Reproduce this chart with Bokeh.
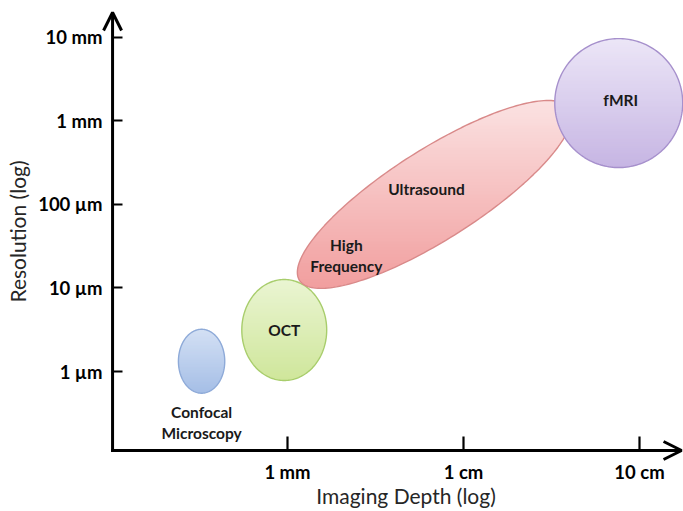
import numpy as np
from bokeh.plotting import figure
from bokeh.models import Range1d, FixedTicker, Arrow, OpenHead
from bokeh.core.properties import value
from bokeh.embed import file_html
from bokeh.resources import INLINE

# ---- axis ticks -------------------------------------------------------------
depth_ticks_mm = [1, 10, 100]
depth_tick_labels = ["1 mm", "1 cm", "10 cm"]
res_ticks_um = [1, 10, 100, 1000, 10000]
res_tick_labels = ["1 µm", "10 µm", "100 µm", "1 mm", "10 mm"]

# ---- imaging modalities: depth range (mm) and resolution range (µm) --------
modalities = ["Confocal Microscopy", "OCT", "Ultrasound", "fMRI"]
depth_lo_mm = [0.24, 0.55, 1.17, 33.0]
depth_hi_mm = [0.44, 1.67, 40.0, 176.0]
res_lo_um = [0.55, 0.78, 12.3, 275.0]
res_hi_um = [3.2, 12.6, 1400.0, 9600.0]
# ultrasound spans the range diagonally (resolution coarsens with depth)
diagonal = [False, False, True, False]

# ---- styling ---------------------------------------------------------------
top_colors = ["#d3e0f4", "#eaf5d2", "#fbe2e2", "#ece6f7"]
bottom_colors = ["#a5bee6", "#cfe69b", "#f19e9e", "#c6b5e3"]
edge_colors = ["#8eaad8", "#a8cd6c", "#d98a8a", "#a690cc"]
US_HALF_THICK_PX = 45

FONT = "Lato"
W, H = 683, 511
# log10(depth / mm) and log10(resolution / µm) spanned by the canvas
X0, X1 = -1.6307, 2.25
Y0, Y1 = -1.6746, 4.4378
SX = W / (X1 - X0)   # px per decade of depth
SY = H / (Y1 - Y0)   # px per decade of resolution
# where the two axes cross, and where their arrows end
X_AX, Y_AX = -0.994, -0.945
X_TIP, Y_TIP = 2.239, 4.294


def outline(i, n=200):
    """Ellipse outline in pixel-scaled (u, v) space."""
    lx0, lx1 = np.log10(depth_lo_mm[i]), np.log10(depth_hi_mm[i])
    ly0, ly1 = np.log10(res_lo_um[i]), np.log10(res_hi_um[i])
    t = np.linspace(0, 2 * np.pi, n, endpoint=False)
    if diagonal[i]:
        u0, v0, u1, v1 = lx0 * SX, ly0 * SY, lx1 * SX, ly1 * SY
        cu, cv = (u0 + u1) / 2, (v0 + v1) / 2
        a = np.hypot(u1 - u0, v1 - v0) / 2
        b = US_HALF_THICK_PX
        th = np.arctan2(v1 - v0, u1 - u0)
        u = cu + a * np.cos(t) * np.cos(th) - b * np.sin(t) * np.sin(th)
        v = cv + a * np.cos(t) * np.sin(th) + b * np.sin(t) * np.cos(th)
    else:
        cu, cv = (lx0 + lx1) / 2 * SX, (ly0 + ly1) / 2 * SY
        a, b = (lx1 - lx0) / 2 * SX, (ly1 - ly0) / 2 * SY
        u, v = cu + a * np.cos(t), cv + b * np.sin(t)
    return u, v


def clip_band(pts, lo, hi):
    """Clip a convex polygon to lo <= v <= hi."""
    def half(poly, keep, level):
        out = []
        for k in range(len(poly)):
            p, q = poly[k], poly[(k + 1) % len(poly)]
            kp, kq = keep(p), keep(q)
            if kp:
                out.append(p)
            if kp != kq:
                s = (level - p[1]) / (q[1] - p[1])
                out.append((p[0] + s * (q[0] - p[0]), level))
        return out
    pts = half(pts, lambda p: p[1] >= lo, lo)
    if pts:
        pts = half(pts, lambda p: p[1] <= hi, hi)
    return pts


def mix(c0, c1, f):
    a = np.array([int(c0[k:k + 2], 16) for k in (1, 3, 5)], float)
    b = np.array([int(c1[k:k + 2], 16) for k in (1, 3, 5)], float)
    c = np.round(a + (b - a) * f).astype(int)
    return "#%02x%02x%02x" % tuple(c)


p = figure(width=W, height=H, x_range=Range1d(X0, X1), y_range=Range1d(Y0, Y1),
           output_backend="svg", toolbar_location=None,
           min_border=0, min_border_left=0, min_border_right=0,
           min_border_top=0, min_border_bottom=0)
p.grid.visible = False
p.outline_line_color = None

# gradient-filled ellipses, drawn as thin horizontal bands
N_BANDS = 60
geom = []
for i in range(len(modalities)):
    u, v = outline(i)
    poly = list(zip(u, v))
    vmin, vmax = v.min(), v.max()
    h = (vmax - vmin) / N_BANDS
    band_xs, band_ys, band_cols = [], [], []
    for k in range(N_BANDS):
        lo = vmin + k * h
        hi = min(lo + h + 0.8, vmax)
        piece = clip_band(poly, lo, hi)
        if len(piece) < 3:
            continue
        f = 1 - (lo + h / 2 - vmin) / (vmax - vmin)
        band_xs.append([q[0] / SX for q in piece])
        band_ys.append([q[1] / SY for q in piece])
        band_cols.append(mix(top_colors[i], bottom_colors[i], f))
    p.patches(xs=band_xs, ys=band_ys, fill_color=band_cols, line_color=None)
    p.patch(u / SX, v / SY, fill_alpha=0, line_color=edge_colors[i], line_width=1.4)
    geom.append((u, v))

# labels
lab_x, lab_y, lab_t = [], [], []
for i, name in enumerate(modalities):
    u, v = geom[i]
    cu, cv = (u.min() + u.max()) / 2, (v.min() + v.max()) / 2
    if name == "Confocal Microscopy":
        lab_x.append(cu / SX); lab_y.append((v.min() - 29) / SY); lab_t.append("Confocal\nMicroscopy")
    elif name == "Ultrasound":
        lab_x.append((cu - 8) / SX); lab_y.append((cv + 5) / SY); lab_t.append("Ultrasound")
        lab_x.append((u.min() + 49) / SX); lab_y.append((v.min() + 33) / SY); lab_t.append("High\nFrequency")
    elif name == "fMRI":
        lab_x.append((cu + 2) / SX); lab_y.append((cv + 3) / SY); lab_t.append("fMRI")
    else:
        lab_x.append(cu / SX); lab_y.append(cv / SY); lab_t.append(name)
p.text(x=lab_x, y=lab_y, text=lab_t, text_font=value(FONT), text_font_style="bold",
       text_font_size="15.5px", text_color="#1a1a1a", text_align="center",
       text_baseline="middle", text_line_height=1.15)

# axes, crossing at the origin of the diagram
xa, ya = p.xaxis[0], p.yaxis[0]
xa.fixed_location = Y_AX
ya.fixed_location = X_AX
xa.bounds = (X_AX + 16 / SX, X1)
ya.bounds = (Y_AX, Y_TIP)
xa.ticker = FixedTicker(ticks=[round(float(np.log10(t)), 6) for t in depth_ticks_mm])
xa.major_label_overrides = {round(float(np.log10(t)), 6): s for t, s in zip(depth_ticks_mm, depth_tick_labels)}
ya.ticker = FixedTicker(ticks=[round(float(np.log10(t)), 6) for t in res_ticks_um])
ya.major_label_overrides = {round(float(np.log10(t)), 6): s for t, s in zip(res_ticks_um, res_tick_labels)}
for ax in (xa, ya):
    ax.minor_tick_line_color = None
    ax.axis_line_color = None
    ax.major_tick_line_width = 2.2
    ax.major_tick_line_color = "black"
    ax.major_tick_out = 0
    ax.major_label_text_font = FONT
    ax.major_label_text_font_style = "bold"
    ax.major_label_text_font_size = "18.5px"
    ax.major_label_text_color = "black"
    ax.axis_label_text_font = FONT
    ax.axis_label_text_font_style = "normal"
    ax.axis_label_text_font_size = "21px"
    ax.axis_label_text_color = "#262626"
xa.major_tick_in = 14
ya.major_tick_in = 10
xa.major_label_standoff = 10
ya.major_label_standoff = 10
xa.axis_label = "Imaging Depth (log)"
ya.axis_label = "Resolution (log)"
xa.axis_label_standoff = -3
ya.axis_label_standoff = 5

# axis lines with open arrowheads
head = dict(size=18, line_width=3, line_color="black")
p.add_layout(Arrow(end=OpenHead(**head), x_start=X_AX - 1.5 / SX, y_start=Y_AX,
                   x_end=X_TIP, y_end=Y_AX, line_width=3, line_color="black"))
p.add_layout(Arrow(end=OpenHead(**head), x_start=X_AX, y_start=Y_AX - 1.5 / SY,
                   x_end=X_AX, y_end=Y_TIP, line_width=3, line_color="black"))

open("out.html", "w").write(file_html(p, INLINE))
